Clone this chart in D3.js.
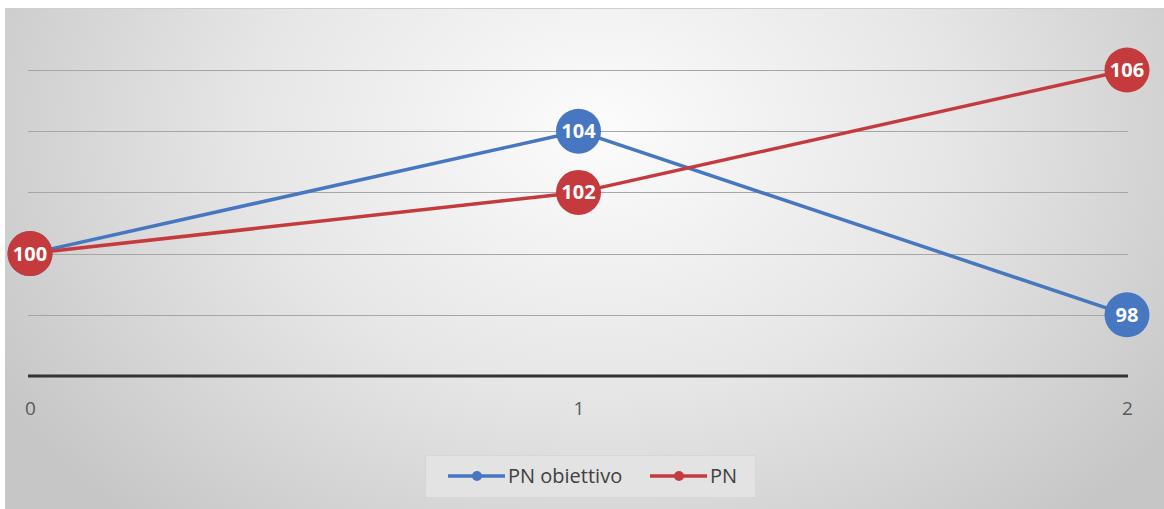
<!DOCTYPE html>
<html><head><meta charset="utf-8">
<script src="https://cdn.jsdelivr.net/npm/d3@7"></script>
<style>body{margin:0;background:#fff}svg{display:block}</style>
</head><body>
<svg id="c" width="1164" height="509"></svg>
<script>
const categories = ["0", "1", "2"];
const seriesNames = ["PN obiettivo", "PN"];
const obiettivo = [100, 104, 98];
const pn = [100, 102, 106];
const yTicks = [96, 98, 100, 102, 104, 106];
const colors = ["#4677c0", "#c53a3d"];

const svg = d3.select("#c");
const W = 1164, H = 509;
const defs = svg.append("defs");
const grad = defs.append("radialGradient").attr("id", "bg")
  .attr("gradientUnits", "userSpaceOnUse")
  .attr("cx", 600).attr("cy", 130).attr("r", 700)
  .attr("gradientTransform", "translate(600,130) scale(1,0.75) translate(-600,-130)");
grad.append("stop").attr("offset", "0").attr("stop-color", "#fcfcfc");
grad.append("stop").attr("offset", "0.5").attr("stop-color", "#e6e6e6");
grad.append("stop").attr("offset", "1").attr("stop-color", "#c6c6c6");

svg.append("rect").attr("x", 5).attr("y", 8).attr("width", W - 5).attr("height", H - 8)
  .attr("fill", "url(#bg)");
svg.append("line").attr("x1", 5).attr("x2", W).attr("y1", 8.5).attr("y2", 8.5)
  .attr("stroke", "#cfcfcf").attr("stroke-width", 1);

const x = d3.scalePoint().domain(categories).range([30, 1127]);
const y = d3.scaleLinear().domain([96, 106]).range([376, 70]);

// gridlines
svg.append("g").selectAll("line").data(yTicks.filter(t => t > 96)).join("line")
  .attr("x1", 28).attr("x2", 1128)
  .attr("y1", d => Math.round(y(d)) + 0.5).attr("y2", d => Math.round(y(d)) + 0.5)
  .attr("stroke", "#a6a6a6").attr("stroke-width", 1);

// x axis
const xAxis = svg.append("g").attr("transform", `translate(0,${y(96)})`)
  .call(d3.axisBottom(x).tickSize(0).tickPadding(26));
xAxis.select(".domain").attr("stroke", "#333").attr("stroke-width", 3)
  .attr("d", `M28,0H1128`);
xAxis.selectAll("text").attr("font-family", "'Open Sans', 'DejaVu Sans', sans-serif")
  .attr("font-size", 19).attr("fill", "#595959");

const line = d3.line().x((d, i) => x(categories[i])).y(d => y(d));
const data = [obiettivo, pn];

data.forEach((s, k) => {
  svg.append("path").datum(s).attr("d", line)
    .attr("fill", "none").attr("stroke", colors[k]).attr("stroke-width", 3.5)
    .attr("stroke-linejoin", "round");
});
data.forEach((s, k) => {
  const g = svg.append("g");
  g.selectAll("circle").data(s).join("circle")
    .attr("cx", (d, i) => x(categories[i])).attr("cy", d => y(d)).attr("r", 22.5)
    .attr("fill", colors[k]);
  g.selectAll("text").data(s).join("text")
    .attr("x", (d, i) => x(categories[i])).attr("y", d => y(d) + 7)
    .attr("text-anchor", "middle")
    .attr("font-family", "'Open Sans', 'DejaVu Sans', sans-serif")
    .attr("font-size", 20).attr("font-weight", "bold").attr("fill", "#fff")
    .text(d => d);
});

// legend
const lg = svg.append("g");
lg.append("rect").attr("x", 425.5).attr("y", 455.5).attr("width", 330).attr("height", 42)
  .attr("fill", "#e3e3e3").attr("stroke", "#d6d6d6");
const items = [{x0: 448, name: seriesNames[0]}, {x0: 650, name: seriesNames[1]}];
items.forEach((it, k) => {
  lg.append("line").attr("x1", it.x0).attr("x2", it.x0 + 57).attr("y1", 476).attr("y2", 476)
    .attr("stroke", colors[k]).attr("stroke-width", 3.5);
  lg.append("circle").attr("cx", it.x0 + 29).attr("cy", 476).attr("r", 5).attr("fill", colors[k]);
  lg.append("text").attr("x", it.x0 + 60).attr("y", 483)
    .attr("font-family", "'Open Sans', 'DejaVu Sans', sans-serif").attr("font-size", 20)
    .attr("fill", "#404040").text(it.name);
});
</script>
</body></html>
